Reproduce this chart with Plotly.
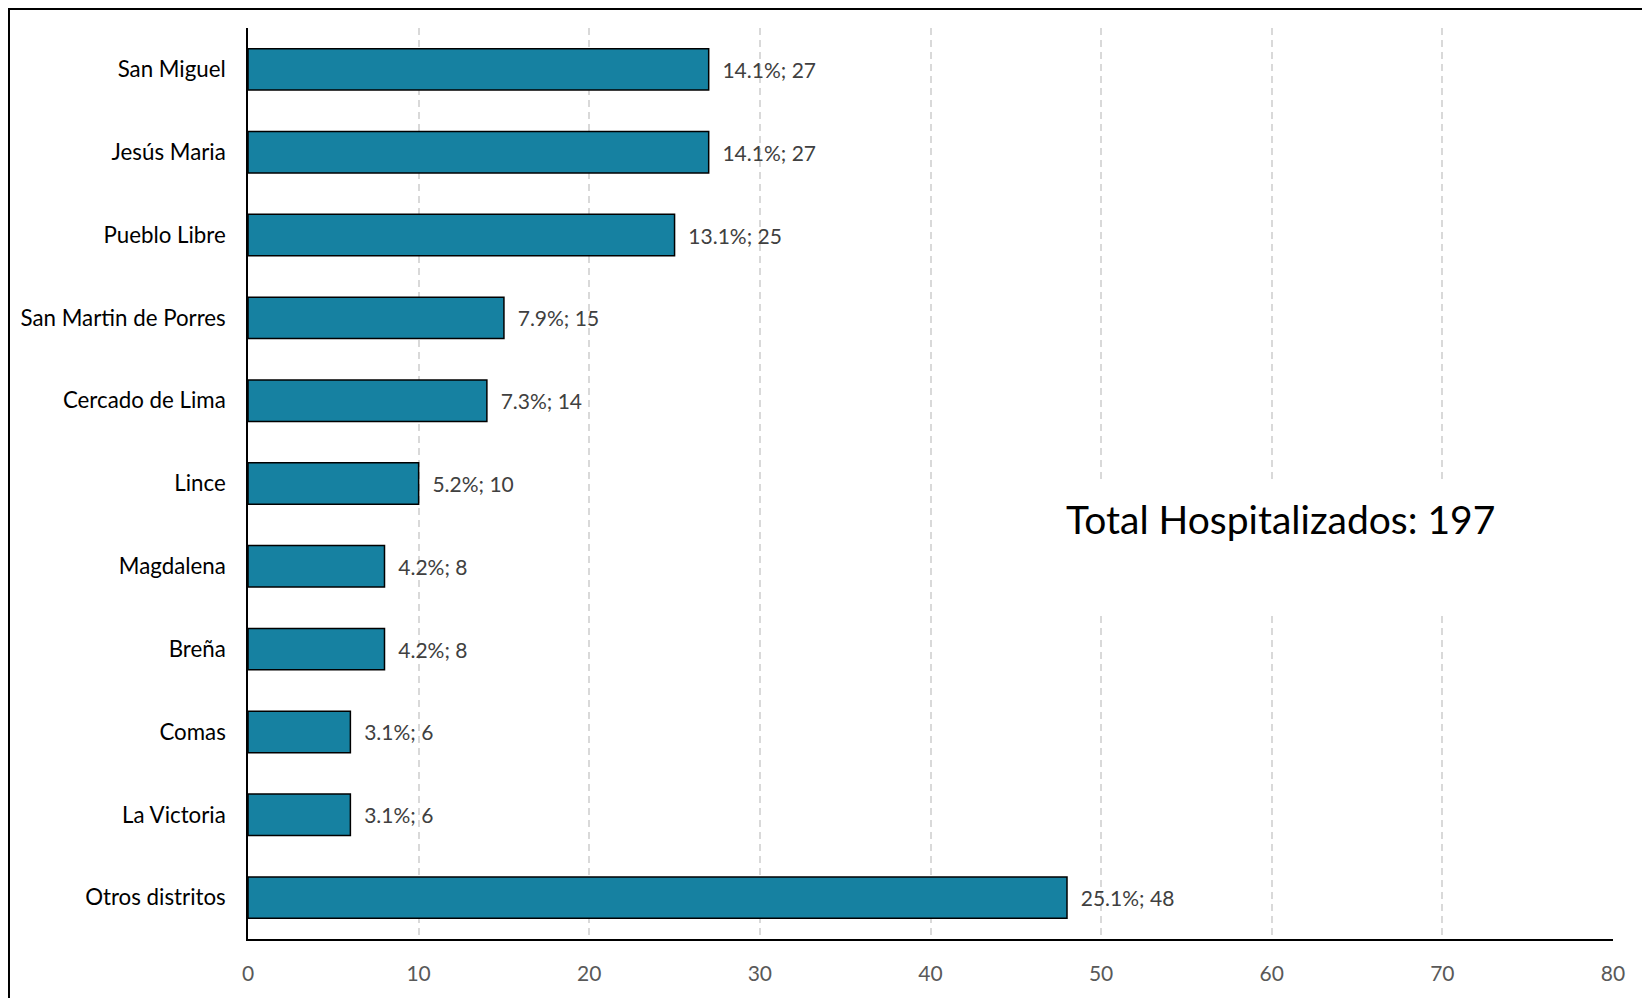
import plotly.graph_objects as go

districts = ["San Miguel", "Jesús Maria", "Pueblo Libre", "San Martin de Porres",
             "Cercado de Lima", "Lince", "Magdalena", "Breña", "Comas",
             "La Victoria", "Otros distritos"]
counts = [27, 27, 25, 15, 14, 10, 8, 8, 6, 6, 48]
percents = ["14.1%", "14.1%", "13.1%", "7.9%", "7.3%", "5.2%", "4.2%", "4.2%",
            "3.1%", "3.1%", "25.1%"]
total_label = "Total Hospitalizados: 197"
x_ticks = [0, 10, 20, 30, 40, 50, 60, 70, 80]

FONT = "Lato"
labels = ["\u00a0\u00a0" + f"{p}; {c}" for p, c in zip(percents, counts)]

fig = go.Figure()
fig.add_trace(go.Bar(
    y=districts, x=counts, orientation="h",
    marker=dict(color="#1681A1", line=dict(color="#000000", width=1.5)),
    text=labels, textposition="outside", cliponaxis=False,
    textfont=dict(family=FONT, size=21, color="#404040"),
    hoverinfo="skip",
))

fig.update_layout(
    width=1642, height=990,
    margin=dict(l=240, r=37, t=20, b=59),
    paper_bgcolor="white", plot_bgcolor="white",
    bargap=0.5, showlegend=False,
    font=dict(family=FONT),
)
fig.update_xaxes(
    range=[0, 80], tickvals=x_ticks, ticktext=[str(t) for t in x_ticks],
    showgrid=True, gridcolor="#D9D9D9", gridwidth=1.5, griddash="7px,5px",
    showline=True, linecolor="#000000", linewidth=1.5,
    zeroline=False, ticks="", ticklabelstandoff=15,
    tickfont=dict(family=FONT, size=21, color="#595959"),
)
fig.update_yaxes(
    autorange="reversed", showgrid=False,
    showline=True, linecolor="#000000", linewidth=1.5,
    ticks="", ticklabelstandoff=16,
    tickfont=dict(family=FONT, size=22.3, color="#000000"),
)

# white text box covering gridlines
fig.add_shape(type="rect", xref="x", yref="paper", x0=45, x1=77, y0=0.36, y1=0.5005,
              fillcolor="white", line=dict(width=0), layer="above")
fig.add_annotation(xref="x", yref="paper", x=60.5, y=0.461, text=total_label,
                   showarrow=False, font=dict(family=FONT, size=39, color="#000000"),
                   xanchor="center", yanchor="middle")
# outer border
fig.add_shape(type="rect", xref="paper", yref="paper",
              x0=-0.1751, x1=1.0264, y0=-0.12, y1=1.0209,
              line=dict(color="#000000", width=2), fillcolor="rgba(0,0,0,0)", layer="above")

fig.write_html("out.html")
